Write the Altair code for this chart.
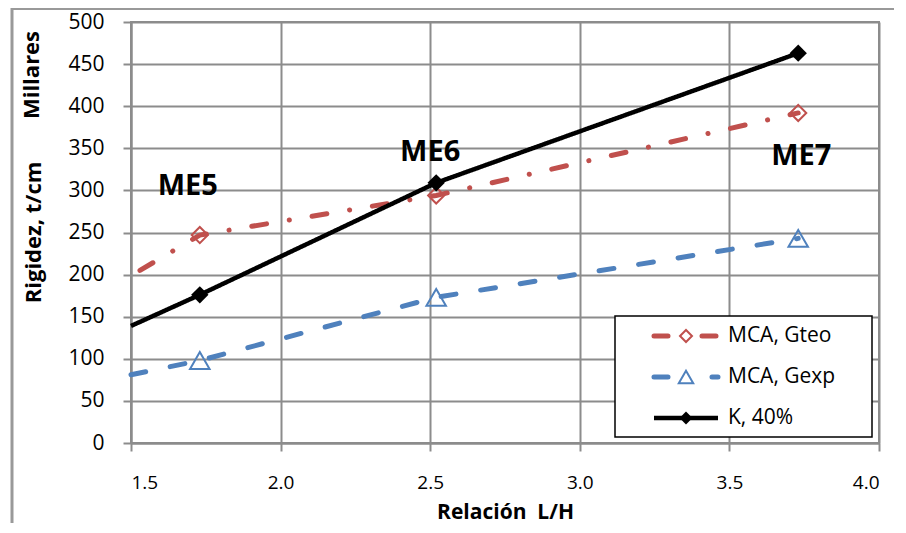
import altair as alt
import pandas as pd

# ---- data ----
ratio = [1.73, 2.52, 3.73]                 # L/H of ME5, ME6, ME7
gteo = [247, 294, 392]                     # MCA, Gteo (millares t/cm)
gexp = [98, 173, 243]                      # MCA, Gexp
k40 = [176, 309, 463]                      # K, 40%
line_start_x = {"MCA, Gteo": 1.53, "MCA, Gexp": 1.5, "K, 40%": 1.5}
line_start_y = {"MCA, Gteo": 205, "MCA, Gexp": 81, "K, 40%": 139}

spec_names = ["ME5", "ME6", "ME7"]
spec_label_x = [1.69, 2.50, 3.74]
spec_label_y = [305, 346, 341]

x_ticks = [1.5, 2.0, 2.5, 3.0, 3.5, 4.0]
y_ticks = list(range(0, 501, 50))

series = ["MCA, Gteo", "MCA, Gexp", "K, 40%"]
values = {"MCA, Gteo": gteo, "MCA, Gexp": gexp, "K, 40%": k40}

FONT = "Open Sans"
GRID = "#8c8c8c"
RED = "#C0504D"
BLUE = "#4F81BD"

style = {
    "MCA, Gteo": dict(color=RED, dash=[15, 23, 0.1, 23], width=5, shape="diamond",
                      size=260, filled=False, legend_dash=[14, 34]),
    "MCA, Gexp": dict(color=BLUE, dash=[15, 25], width=5, shape="triangle-up",
                      size=380, filled=False, legend_dash=[14, 44]),
    "K, 40%": dict(color="black", dash=[1, 0], width=4.5, shape="diamond",
                   size=300, filled=True, legend_dash=[1, 0]),
}

xs = alt.Scale(domain=[1.5, 4.0], nice=False, zero=False)
ys = alt.Scale(domain=[0, 500], nice=False)

x_axis = alt.Axis(values=x_ticks, format=".1f", title="Relación\u00a0 L/H",
                  grid=True, tickSize=8, labelPadding=22, titlePadding=9,
                  labelFontSize=19, titleFontSize=21)
y_axis = alt.Axis(values=y_ticks, title="Rigidez, t/cm", grid=True, tickSize=8,
                  labelPadding=19, labelFontSize=21, titleFontSize=22,
                  titleX=-98, titleY=210, titleBaseline="middle")

X = alt.X("x:Q", scale=xs, axis=x_axis)
Y = alt.Y("y:Q", scale=ys, axis=y_axis)

layers = []
for s in series:
    st = style[s]
    df_line = pd.DataFrame({"x": [line_start_x[s]] + ratio,
                            "y": [line_start_y[s]] + values[s]})
    ln = alt.Chart(df_line).mark_line(
        color=st["color"], strokeWidth=st["width"], strokeDash=st["dash"],
        strokeCap="round" if s != "K, 40%" else "butt"
    ).encode(x=X, y=Y)
    layers.append(ln)

for s in series:
    st = style[s]
    df_pt = pd.DataFrame({"x": ratio, "y": values[s]})
    pt = alt.Chart(df_pt).mark_point(
        shape=st["shape"], size=st["size"], filled=st["filled"],
        color=st["color"], strokeWidth=2, opacity=1,
        fill=st["color"] if st["filled"] else "transparent",
    ).encode(x=X, y=Y)
    layers.append(pt)

labels_df = pd.DataFrame({"x": spec_label_x, "y": spec_label_y, "t": spec_names})
layers.append(
    alt.Chart(labels_df).mark_text(font=FONT, fontSize=29, fontWeight="bold",
                                   color="black", align="center", baseline="middle")
    .encode(x=X, y=Y, text="t:N")
)

# "Millares" second y-axis title line
layers.append(
    alt.Chart(pd.DataFrame({"t": ["Millares"]})).mark_text(
        font=FONT, fontSize=22, fontWeight="bold", angle=270, color="black",
        align="center", baseline="middle"
    ).encode(x=alt.value(-99), y=alt.value(53), text="t:N")
)

# outer chart frame (top and left edges visible)
layers.append(alt.Chart(pd.DataFrame({"a": [0]})).mark_rule(color="#999999", strokeWidth=2)
              .encode(x=alt.value(-119), x2=alt.value(780), y=alt.value(-13)))
layers.append(alt.Chart(pd.DataFrame({"a": [0]})).mark_rule(color="#999999", strokeWidth=3)
              .encode(x=alt.value(-119), y=alt.value(-14), y2=alt.value(520)))

# legend box
LX0, LX1, LY0, LY1 = 484, 741, 294, 415
layers.append(alt.Chart(pd.DataFrame({"a": [0]})).mark_rect(
    fill="white", stroke="black", strokeWidth=1.5)
    .encode(x=alt.value(LX0), x2=alt.value(LX1), y=alt.value(LY0), y2=alt.value(LY1)))
for j, s in enumerate(series):
    st = style[s]
    yy = 314 + 41 * j
    one = pd.DataFrame({"t": [s]})
    layers.append(alt.Chart(one).mark_rule(
        color=st["color"], strokeWidth=st["width"], strokeDash=st["legend_dash"],
        strokeCap="round" if s != "K, 40%" else "butt")
        .encode(x=alt.value(523), x2=alt.value(587), y=alt.value(yy)))
    layers.append(alt.Chart(one).mark_point(
        shape=st["shape"], size=st["size"] * 0.55, filled=st["filled"],
        color=st["color"], strokeWidth=2, opacity=1,
        fill=st["color"] if st["filled"] else "white")
        .encode(x=alt.value(555), y=alt.value(yy)))
    layers.append(alt.Chart(one).mark_text(
        font=FONT, fontSize=21, color="black", align="left", baseline="middle")
        .encode(x=alt.value(597), y=alt.value(yy), text="t:N"))

chart = alt.layer(*layers).properties(
    width=748, height=421,
    background="white",
    autosize=alt.AutoSizeParams(type="none"),
    padding={"left": 123, "top": 14, "right": 15, "bottom": 80},
).configure_view(stroke=GRID, strokeWidth=2).configure_axis(
    gridColor=GRID, gridWidth=2, domainColor=GRID, domainWidth=2,
    tickColor=GRID, tickWidth=2,
    labelFont=FONT, labelColor="black",
    titleFont=FONT, titleFontWeight="bold", titleColor="black",
)

chart.save("out.html", embed_options={"renderer": "svg", "actions": False})
